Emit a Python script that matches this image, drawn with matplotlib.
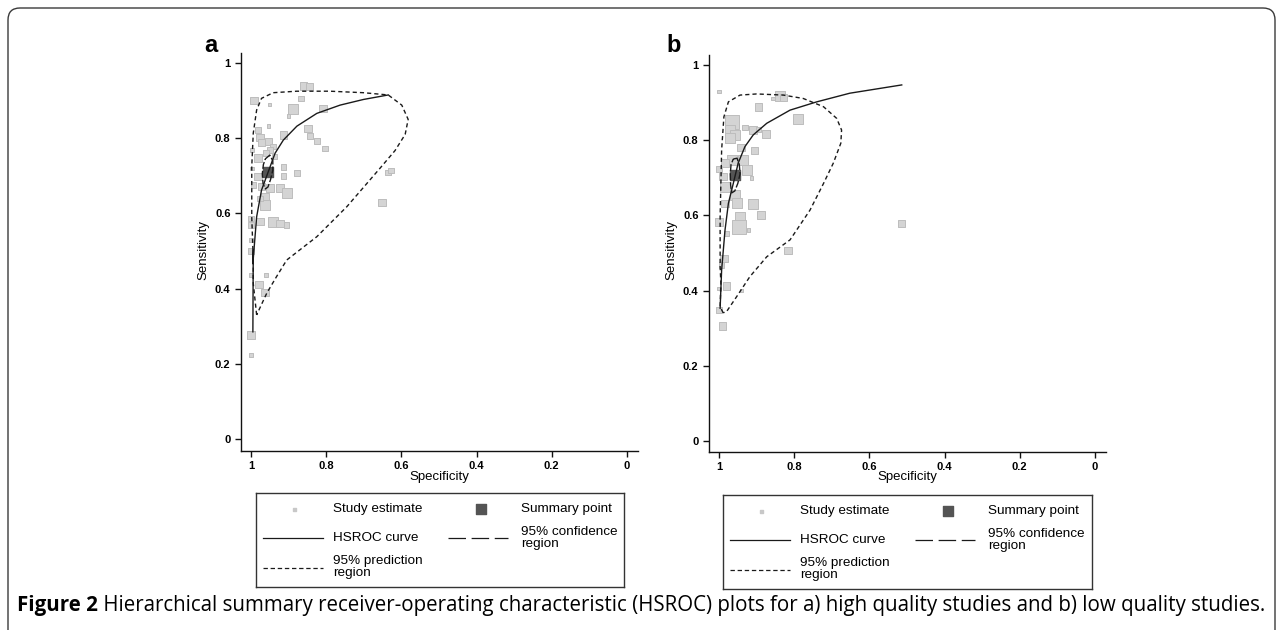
import matplotlib
matplotlib.use('Agg')
import matplotlib.pyplot as plt
from matplotlib.patches import FancyBboxPatch
from matplotlib.transforms import IdentityTransform

plt.rcParams['font.family'] = ['Liberation Sans', 'DejaVu Sans']

# ---------------- data ----------------
ticks = [1, 0.8, 0.6, 0.4, 0.2, 0]
tick_labels = ['1', '0.8', '0.6', '0.4', '0.2', '0']

# panel a: high quality studies (specificity, sensitivity, weight class)
a_spec = [0.992, 0.951, 0.861, 0.845, 0.867, 0.887, 0.900, 0.809, 0.953, 0.849,
          0.843, 0.825, 0.803, 0.914, 0.981, 0.976, 0.998, 0.954, 0.972, 0.941,
          0.949, 0.960, 0.981, 0.938, 0.998, 0.914, 0.914, 0.878, 0.981, 0.994,
          0.972, 0.949, 0.923, 0.905, 0.963, 0.963, 0.976, 1.000, 0.976, 0.941,
          0.923, 0.905, 1.000, 1.000, 1.000, 0.636, 0.628, 0.652, 1.000, 0.960,
          0.979, 0.963, 1.000, 1.000]
a_sens = [0.900, 0.890, 0.939, 0.937, 0.906, 0.877, 0.859, 0.879, 0.832, 0.826,
          0.806, 0.793, 0.772, 0.809, 0.822, 0.802, 0.769, 0.791, 0.788, 0.778,
          0.769, 0.760, 0.747, 0.751, 0.720, 0.723, 0.700, 0.707, 0.698, 0.676,
          0.671, 0.667, 0.667, 0.655, 0.644, 0.622, 0.640, 0.587, 0.578, 0.578,
          0.573, 0.569, 0.569, 0.529, 0.500, 0.709, 0.714, 0.629, 0.436, 0.436,
          0.411, 0.390, 0.277, 0.223]
a_wt = [3, 1, 3, 3, 2, 4, 1, 3, 1, 3,
        2, 2, 2, 3, 2, 3, 1, 3, 3, 2,
        2, 2, 3, 2, 1, 2, 2, 2, 3, 2,
        3, 3, 3, 4, 3, 4, 2, 2, 3, 4,
        3, 2, 2, 1, 2, 2, 2, 3, 1, 1,
        3, 3, 3, 1]
a_summary = (0.956, 0.711)
a_curve_spec = [0.995, 0.994, 0.995, 0.985, 0.972, 0.954, 0.936, 0.914, 0.878,
                0.825, 0.763, 0.701, 0.635]
a_curve_sens = [0.285, 0.503, 0.467, 0.591, 0.662, 0.711, 0.760, 0.795, 0.832,
                0.866, 0.888, 0.903, 0.915]
a_conf_spec = [0.962, 0.950, 0.942, 0.942, 0.948, 0.955, 0.962, 0.968, 0.970, 0.967, 0.962]
a_conf_sens = [0.745, 0.755, 0.740, 0.715, 0.690, 0.670, 0.665, 0.680, 0.705, 0.730, 0.745]
a_pred_spec = [0.985, 0.994, 0.994, 0.998, 0.998, 0.994, 0.985, 0.972, 0.941, 0.878,
               0.790, 0.701, 0.635, 0.599, 0.582, 0.590, 0.617, 0.657, 0.745, 0.825,
               0.905, 0.932, 0.958, 0.985]
a_pred_sens = [0.330, 0.414, 0.476, 0.591, 0.724, 0.813, 0.875, 0.906, 0.921, 0.925,
               0.925, 0.921, 0.915, 0.888, 0.850, 0.810, 0.767, 0.720, 0.618, 0.538,
               0.476, 0.432, 0.388, 0.330]

# panel b: low quality studies
b_spec = [1.000, 0.838, 0.828, 0.856, 0.895, 0.789, 0.966, 0.971, 0.957, 0.931,
          0.909, 0.895, 0.875, 0.971, 0.942, 0.906, 0.966, 0.935, 0.984, 1.000,
          0.926, 0.913, 0.989, 0.984, 0.957, 0.951, 0.909, 0.888, 0.984, 0.944,
          0.946, 1.000, 0.922, 0.980, 0.817, 0.987, 0.514, 0.987, 0.993, 1.000,
          0.980, 1.000, 0.991, 0.940]
b_sens = [0.929, 0.918, 0.914, 0.911, 0.888, 0.856, 0.849, 0.827, 0.814, 0.834,
          0.827, 0.829, 0.816, 0.805, 0.781, 0.772, 0.747, 0.747, 0.739, 0.723,
          0.721, 0.700, 0.703, 0.676, 0.654, 0.632, 0.630, 0.601, 0.632, 0.597,
          0.570, 0.583, 0.561, 0.552, 0.506, 0.483, 0.579, 0.486, 0.468, 0.406,
          0.412, 0.348, 0.306, 0.400]
b_wt = [1, 4, 3, 1, 3, 4, 5, 4, 4, 2,
        3, 2, 3, 4, 3, 3, 4, 4, 3, 2,
        4, 1, 3, 4, 4, 4, 4, 3, 3, 4,
        5, 3, 1, 2, 3, 2, 3, 3, 2, 1,
        3, 2, 3, 1]
b_summary = (0.957, 0.707)
b_curve_spec = [0.997, 0.993, 0.990, 0.984, 0.975, 0.962, 0.949, 0.931, 0.909,
                0.873, 0.811, 0.740, 0.652, 0.514]
b_curve_sens = [0.353, 0.455, 0.490, 0.561, 0.632, 0.685, 0.739, 0.783, 0.814,
                0.845, 0.880, 0.902, 0.925, 0.947]
b_conf_spec = [0.962, 0.952, 0.946, 0.944, 0.950, 0.958, 0.966, 0.969, 0.970, 0.968, 0.962]
b_conf_sens = [0.750, 0.752, 0.735, 0.710, 0.685, 0.665, 0.660, 0.680, 0.710, 0.735, 0.750]
b_pred_spec = [0.989, 0.997, 0.995, 0.997, 0.997, 0.995, 0.993, 0.987, 0.975, 0.944,
               0.900, 0.829, 0.776, 0.722, 0.687, 0.674, 0.676, 0.696, 0.722, 0.758,
               0.811, 0.873, 0.918, 0.953, 0.980, 0.989]
b_pred_sens = [0.341, 0.357, 0.419, 0.464, 0.597, 0.685, 0.774, 0.862, 0.902, 0.920,
               0.923, 0.920, 0.911, 0.889, 0.858, 0.827, 0.792, 0.739, 0.685, 0.614,
               0.535, 0.490, 0.437, 0.384, 0.344, 0.341]

legend_labels = ['Study estimate', 'Summary point', 'HSROC curve',
                 '95% confidence\nregion', '95% prediction\nregion']
caption_bold = 'Figure 2'
caption_text = (' Hierarchical summary receiver-operating characteristic (HSROC) '
                'plots for a) high quality studies and b) low quality studies.')

# ---------------- layout ----------------
W, H = 1282, 630
fig = plt.figure(figsize=(W / 100, H / 100), dpi=100)

size_px = {1: 3.5, 2: 5.5, 3: 7.5, 4: 10, 5: 14}


def px_box(x0, y0, x1, y1):
    return [x0 / W, 1 - y1 / H, (x1 - x0) / W, (y1 - y0) / H]


def panel(box, ref, spec, sens, wt, summ, cs, cv, fs, fv, ps, pv, letter, lx):
    x0, y0, x1, y1 = box
    px1, px0, py1, py0 = ref  # pixel position of x=1, x=0, y=1, y=0
    sx = (px0 - px1)
    sy = (py0 - py1)
    ax = fig.add_axes(px_box(*box))
    ax.set_xlim(1 + (px1 - x0) / sx, -(x1 - px0) / sx)
    ax.set_ylim(-(y1 - py0) / sy, 1 + (py1 - y0) / sy)
    for side in ['top', 'right']:
        ax.spines[side].set_visible(False)
    for side in ['left', 'bottom']:
        ax.spines[side].set_linewidth(1.0)
        ax.spines[side].set_color('#111111')
    ax.set_xticks(ticks)
    ax.set_xticklabels(tick_labels)
    ax.set_yticks(ticks)
    ax.set_yticklabels(tick_labels)
    ax.tick_params(length=4, width=1.0, pad=3.5, labelsize=8, color='#111111')
    for t in ax.get_xticklabels() + ax.get_yticklabels():
        t.set_fontweight('bold')

    ax.scatter(spec, sens, s=[(size_px[w] * 0.72) ** 2 for w in wt], marker='s',
               facecolor='#d4d4d4', edgecolor='#bdbdbd', linewidths=0.7, zorder=2)
    ax.scatter([summ[0]], [summ[1]], s=(10.5 * 0.72) ** 2, marker='s',
               color='#545454', zorder=3)
    ax.plot(cs, cv, color='#1a1a1a', lw=1.0, zorder=4)
    ax.plot(fs, fv, color='#1a1a1a', lw=1.0, dashes=(5, 1.5), zorder=4)
    ax.plot(ps, pv, color='#1a1a1a', lw=1.0, dashes=(3, 2.2), zorder=4)

    cx = (x0 + x1) / 2
    fig.text(cx / W, 1 - 477 / H, 'Specificity', ha='center', va='center', fontsize=9.5)
    fig.text((x0 - 38) / W, 1 - 250 / H, 'Sensitivity', ha='center', va='center',
             rotation=90, fontsize=9.5)
    fig.text(lx / W, 1 - 52 / H, letter, ha='left', va='baseline', fontsize=17,
             fontweight='bold')
    return ax


def legend_box(x0, y0, w, h):
    lg = fig.add_axes(px_box(x0, y0, x0 + w, y0 + h))
    lg.set_xlim(0, w)
    lg.set_ylim(h, 0)
    lg.set_xticks([])
    lg.set_yticks([])
    for sp in lg.spines.values():
        sp.set_linewidth(1.0)
        sp.set_color('#333333')
    lg.scatter([38], [16], s=(3 * 0.72) ** 2, marker='s', color='#c8c8c8')
    lg.scatter([225], [16], s=(10 * 0.72) ** 2, marker='s', color='#545454')
    lg.plot([7, 67], [45, 45], color='#1a1a1a', lw=0.9)
    lg.plot([192, 252], [45, 45], color='#1a1a1a', lw=0.9, dashes=(14, 4.5))
    lg.plot([7, 67], [75, 75], color='#1a1a1a', lw=0.9, dashes=(3.5, 2.2))
    spots = [(77, 16), (265, 16), (77, 45), (265, 45), (77, 74)]
    for (tx, ty), lab in zip(spots, legend_labels):
        lg.text(tx, ty, lab, ha='left', va='center', fontsize=9.7, linespacing=1.05)


panel((241, 53, 638, 451), (251, 627, 63, 439), a_spec, a_sens, a_wt, a_summary,
      a_curve_spec, a_curve_sens, a_conf_spec, a_conf_sens, a_pred_spec, a_pred_sens,
      'a', 204)
panel((709, 55, 1106, 452), (719, 1095, 65, 441), b_spec, b_sens, b_wt, b_summary,
      b_curve_spec, b_curve_sens, b_conf_spec, b_conf_sens, b_pred_spec, b_pred_sens,
      'b', 666)

legend_box(256, 493, 368, 94)
legend_box(723, 495, 369, 94)

# outer frame with rounded top corners
frame = FancyBboxPatch((8, -30), 1267, H - 8 + 30, boxstyle='round,pad=0,rounding_size=12',
                       transform=IdentityTransform(), fill=False, edgecolor='#3a3a3a',
                       lw=1.0)
fig.patches.append(frame)

# caption, fitted to the width it spans in the figure
cap_font = ['Open Sans', 'DejaVu Sans']
r = fig.canvas.get_renderer()
t1 = fig.text(17 / W, 1 - 611 / H, caption_bold, fontsize=12, fontweight='bold',
              family=cap_font, va='baseline')
t2 = fig.text(0, 1 - 611 / H, caption_text, fontsize=12, family=cap_font, va='baseline')
w_tot = t1.get_window_extent(r).width + t2.get_window_extent(r).width
fsize = 12 * (1262 - 17) / w_tot
t1.set_fontsize(fsize)
t2.set_fontsize(fsize)
w1 = t1.get_window_extent(r).width
t2.set_x((17 + w1) / W)

fig.savefig('out.png', dpi=100)
